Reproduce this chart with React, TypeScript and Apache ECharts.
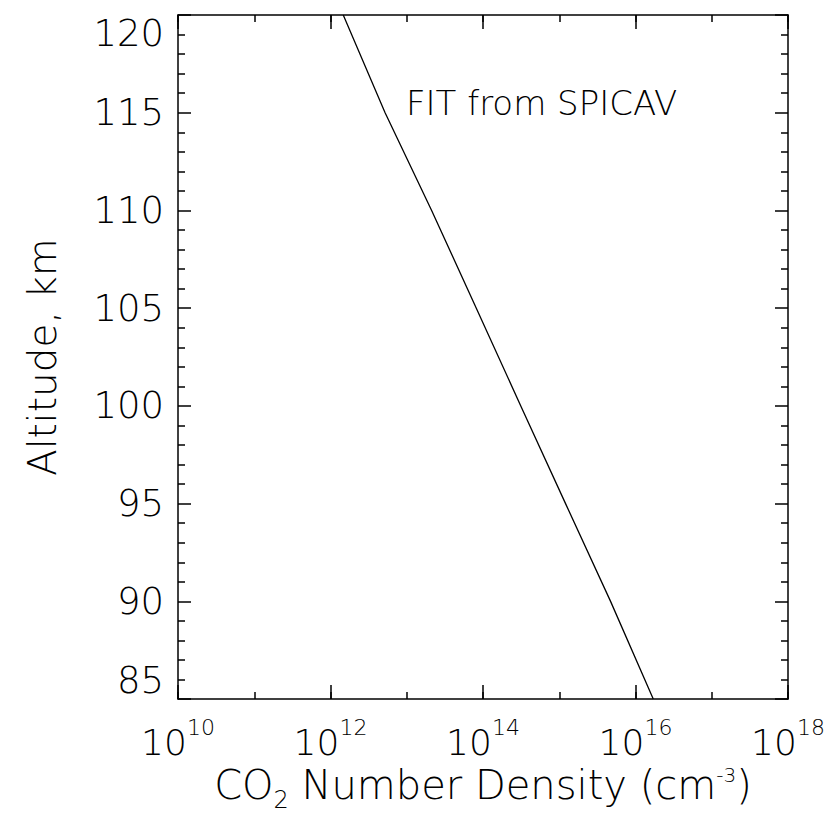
import React, { useEffect, useRef } from "react";
import * as echarts from "echarts";

// Altitude (km) and fitted CO2 number density (cm^-3)
const altitudes = [120, 115, 110, 105, 100, 95, 90, 85];
const densities = [1.47e12, 5.2e12, 2.12e13, 8.17e13, 3.13e14, 1.21e15, 4.71e15, 1.71e16];

const xMin = 1e10;
const xMax = 1e18;
const yMin = 85;
const yMax = 120;
const yMajorStep = 5;
const labelExponents = [10, 12, 14, 16, 18];
const annotation = "FIT from SPICAV";

const FONT = "DejaVu Sans";
const BLACK = "#000";

export default function App() {
  const ref = useRef<HTMLDivElement>(null);
  useEffect(() => {
    if (!ref.current) return;
    const chart = echarts.init(ref.current, undefined, { renderer: "svg" });
    const rich = {
      b: { fontSize: 36, fontFamily: FONT, fontWeight: 200, color: BLACK, lineHeight: 44, verticalAlign: "bottom" },
      s: { fontSize: 22, fontFamily: FONT, fontWeight: 200, color: BLACK, lineHeight: 22, verticalAlign: "top" },
    };
    const xLabelFmt = (v: number) => {
      const e = Math.round(Math.log10(v));
      return labelExponents.includes(e) ? `{b|10}{s|${e}}` : "";
    };
    const lineStyle = { color: BLACK, width: 1.5 };
    const mkX = (pos: "bottom" | "top", major: boolean, showLabel: boolean, name?: string) => ({
      type: "log",
      logBase: 10,
      position: pos,
      min: xMin,
      max: xMax,
      ...(major ? { interval: 2 } : {}),
      axisLine: { show: major, lineStyle, onZero: false },
      axisTick: { show: true, inside: true, length: major ? 14 : 7, lineStyle },
      axisLabel: showLabel
        ? { show: true, formatter: xLabelFmt, rich, margin: 17 }
        : { show: false },
      splitLine: { show: false },
      minorTick: { show: false },
      name: name,
      nameLocation: "middle",
      nameGap: 64,
      nameTextStyle: {
        rich: {
          t: { fontSize: 40, fontFamily: FONT, fontWeight: 200, color: BLACK, lineHeight: 44, verticalAlign: "top" },
          sub: { fontSize: 24, fontFamily: FONT, fontWeight: 200, color: BLACK, lineHeight: 47, verticalAlign: "bottom" },
          sup: { fontSize: 20, fontFamily: FONT, fontWeight: 200, color: BLACK, lineHeight: 26, verticalAlign: "top" },
        },
      },
    });
    const mkY = (pos: "left" | "right", showLabel: boolean, name?: string) => ({
      type: "value",
      position: pos,
      min: yMin,
      max: yMax,
      interval: yMajorStep,
      axisLine: { show: true, lineStyle, onZero: false },
      axisTick: { show: true, inside: true, length: 13, lineStyle },
      minorTick: { show: true, splitNumber: 5, length: 7, lineStyle },
      axisLabel: showLabel
        ? {
            show: true,
            fontSize: 37,
            fontFamily: FONT,
            fontWeight: 200,
            color: BLACK,
            margin: 14,
            verticalAlignMinLabel: "bottom",
            verticalAlignMaxLabel: "top",
          }
        : { show: false },
      splitLine: { show: false },
      minorSplitLine: { show: false },
      name: name,
      nameLocation: "middle",
      nameRotate: 90,
      nameGap: 116,
      nameTextStyle: { fontSize: 39, fontFamily: FONT, fontWeight: 200, color: BLACK },
    });
    chart.setOption({
      animation: false,
      backgroundColor: "#fff",
      grid: { left: 178, top: 15, right: 46, bottom: 112, containLabel: false },
      xAxis: [
        mkX("bottom", true, true, "{t|CO}{sub|2}{t| Number Density (cm}{sup|-3}{t|)}"),
        mkX("bottom", false, false),
        mkX("top", true, false),
        mkX("top", false, false),
      ],
      yAxis: [mkY("left", true, "Altitude, km"), mkY("right", false)],
      graphic: [
        {
          type: "text",
          left: 406,
          top: 86,
          style: { text: annotation, fontSize: 34, fontFamily: FONT, fontWeight: 200, fill: BLACK },
        },
      ],
      series: [
        {
          type: "line",
          xAxisIndex: 0,
          yAxisIndex: 0,
          data: densities.map((d, i) => [d, altitudes[i]]),
          showSymbol: false,
          symbol: "none",
          lineStyle: { color: BLACK, width: 1.3 },
        },
      ],
    });
    return () => chart.dispose();
  }, []);
  return (
    <div
      ref={ref}
      style={{ position: "fixed", left: 0, top: 0, width: 834, height: 817, background: "#fff" }}
    />
  );
}
